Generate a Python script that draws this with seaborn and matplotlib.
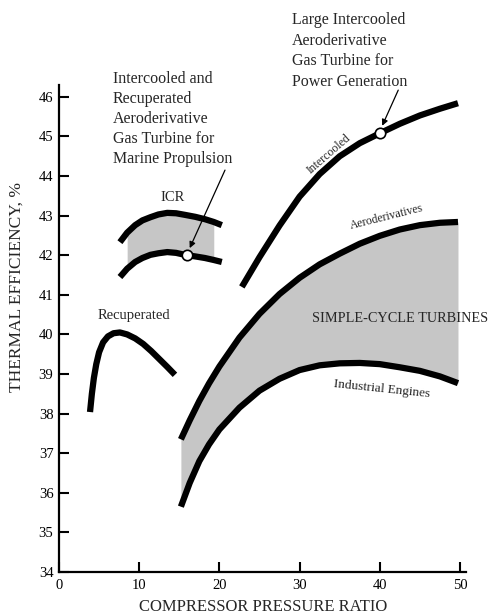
import numpy as np
import matplotlib
matplotlib.use("Agg")
import matplotlib.pyplot as plt
import seaborn as sns

# values
# compressor pressure ratio vs thermal efficiency (%)
recup_x = [3.87, 4.1, 4.35, 4.65, 5.0, 5.5, 6.1, 6.8, 7.6, 8.5, 9.5, 10.5, 11.5, 12.5, 13.5, 14.46]
recup_y = [38.04, 38.5, 38.9, 39.25, 39.55, 39.8, 39.95, 40.03, 40.05, 40.0, 39.9, 39.76, 39.58, 39.38, 39.18, 38.98]

icr_x = [7.6, 8.5, 9.5, 10.4, 11.4, 12.4, 13.5, 14.6, 15.7, 17.0, 18.2, 19.3, 20.3]
icr_upper = [42.33, 42.57, 42.76, 42.88, 42.96, 43.03, 43.07, 43.06, 43.02, 42.97, 42.91, 42.84, 42.76]
icr_lower = [41.45, 41.66, 41.83, 41.93, 42.01, 42.05, 42.08, 42.06, 42.01, 41.97, 41.93, 41.88, 41.83]

interc_x = [22.8, 25, 27.5, 30, 32.5, 35, 37.5, 40, 42.5, 45, 47.5, 49.75]
interc_y = [41.2, 41.95, 42.75, 43.48, 44.05, 44.5, 44.83, 45.08, 45.32, 45.53, 45.7, 45.84]

simple_x = [15.2, 16.3, 17.5, 18.7, 20, 22.5, 25, 27.5, 30, 32.5, 35, 37.5, 40, 42.5, 45, 47.5, 49.75]
aero_y = [37.35, 37.83, 38.32, 38.76, 39.19, 39.92, 40.52, 41.02, 41.43, 41.77, 42.04, 42.29,
          42.49, 42.65, 42.76, 42.82, 42.84]
indus_y = [35.65, 36.25, 36.8, 37.22, 37.6, 38.15, 38.58, 38.88, 39.1, 39.22, 39.27, 39.28,
           39.25, 39.17, 39.08, 38.94, 38.77]

# the two highlighted engines
design_x = [15.96, 40.0]
design_y = [42.0, 45.08]

x_ticks = [0, 10, 20, 30, 40, 50]
y_ticks = list(range(34, 47))

sns.set_style("ticks")
plt.rcParams['font.family'] = ['Liberation Serif', 'DejaVu Serif']

fig = plt.figure(figsize=(5.02, 6.14), dpi=100)
ax = fig.add_axes([0.1175, 0.0684, 0.8116, 0.7932])

grey = '#c6c6c6'
ax.fill_between(simple_x, indus_y, aero_y, color=grey, lw=0, zorder=1)
ax.fill_between(icr_x[1:-1], icr_lower[1:-1], icr_upper[1:-1], color=grey, lw=0, zorder=1)

lw = 4.5
for xs, ys in [(recup_x, recup_y), (icr_x, icr_upper), (icr_x, icr_lower),
               (interc_x, interc_y), (simple_x, aero_y), (simple_x, indus_y)]:
    sns.lineplot(x=xs, y=ys, ax=ax, color='black', lw=lw, sort=False,
                 estimator=None, solid_capstyle='butt', solid_joinstyle='round', zorder=3)

ax.plot(design_x, design_y, 'o', mfc='white', mec='black', ms=7.5, mew=1.2, zorder=5)

ax.set_xlim(0, 50.8)
ax.set_ylim(34, 46.3)
ax.set_xticks(x_ticks)
ax.set_yticks(y_ticks)
ax.tick_params(direction='in', length=7, width=1.5, labelsize=10.5, colors='black')
ax.tick_params(axis='x', pad=5)
ax.tick_params(axis='y', pad=4)
for side in ['top', 'right']:
    ax.spines[side].set_visible(False)
for side in ['left', 'bottom']:
    ax.spines[side].set_linewidth(1.6)
    ax.spines[side].set_color('black')

ax.set_xlabel('COMPRESSOR PRESSURE RATIO', fontsize=12, labelpad=5)
ax.set_ylabel('THERMAL EFFICIENCY, %', fontsize=12.5)
ax.yaxis.set_label_coords(-0.085, 0.585)

# curve labels
ax.text(9.3, 40.49, 'Recuperated', fontsize=10.5, ha='center', va='center')
ax.text(14.2, 43.47, 'ICR', fontsize=10.5, ha='center', va='center')
ax.text(33.6, 44.55, 'Intercooled', fontsize=8.5, ha='center', va='center', rotation=41)
ax.text(40.9, 42.96, 'Aeroderivatives', fontsize=8.5, ha='center', va='center', rotation=14)
ax.text(40.2, 38.62, 'Industrial Engines', fontsize=9.5, ha='center', va='center', rotation=-6)
ax.text(31.6, 40.41, 'SIMPLE-CYCLE TURBINES', fontsize=10.3, ha='left', va='center', clip_on=False)

# callouts
ax.text(29.05, 48.15, 'Large Intercooled\nAeroderivative\nGas Turbine for\nPower Generation',
        fontsize=11.5, ha='left', va='top', linespacing=1.4, clip_on=False)
ax.text(6.73, 46.65, 'Intercooled and\nRecuperated\nAeroderivative\nGas Turbine for\nMarine Propulsion',
        fontsize=11.5, ha='left', va='top', linespacing=1.33, clip_on=False)
arrow = dict(arrowstyle='-|>', lw=0.9, color='black', mutation_scale=9, shrinkA=0, shrinkB=0)
ax.annotate('', xy=(40.3, 45.27), xytext=(42.3, 46.17), arrowprops=arrow, annotation_clip=False)
ax.annotate('', xy=(16.3, 42.18), xytext=(20.7, 44.15), arrowprops=arrow, annotation_clip=False)

fig.savefig('out.png', dpi=100)
